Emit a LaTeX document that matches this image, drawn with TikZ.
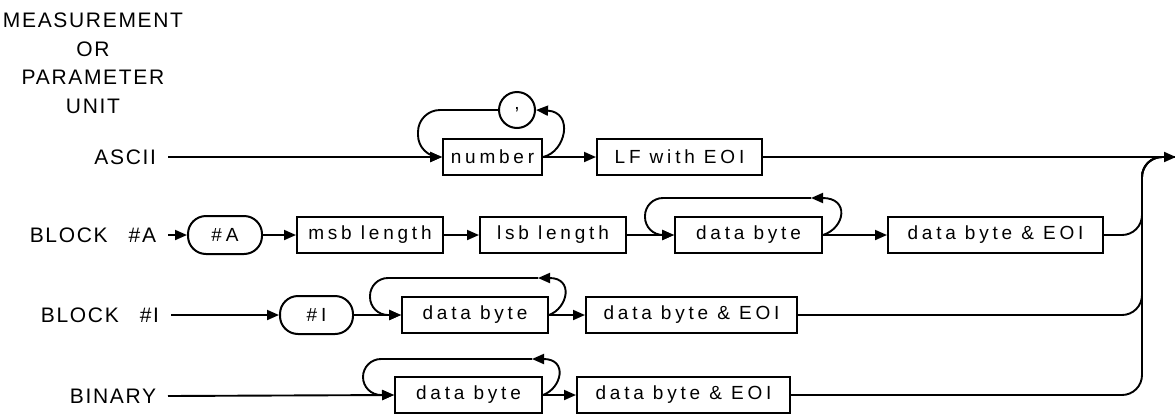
\documentclass[tikz,border=0pt]{standalone}
\usepackage{fontspec}
\setmainfont{Liberation Sans}
\newfontfamily\labelfont[LetterSpace=8]{Liberation Sans}
\newfontfamily\boxfont[LetterSpace=20]{Liberation Sans}
\usetikzlibrary{arrows.meta}

\begin{document}
\begin{tikzpicture}[x=1pt,y=-1pt,
  line width=1.9pt,
  >={Triangle[length=12pt,width=10pt]},
  rowlabel/.style={anchor=east,inner xsep=11pt,inner ysep=0pt,
    font=\labelfont\fontsize{21}{25}\selectfont},
  item/.style={draw,line width=2pt,minimum height=36pt,inner sep=0pt,
    font=\boxfont\fontsize{19}{22}\selectfont},
  token/.style={item,rounded corners=18pt,minimum height=38pt}]
  \useasboundingbox (0,0) rectangle (1175,413);

  % heading and row names
  \node[font=\labelfont\fontsize{21}{28.5}\selectfont,align=center,
    anchor=north,inner sep=0pt] (heading) at (93,12)
    {MEASUREMENT\\OR\\PARAMETER\\UNIT};
  \node[rowlabel] (ascii) at (168,157) {ASCII};
  \node[rowlabel] (blocka) at (168,235) {BLOCK\quad\#A};
  \node[rowlabel] (blocki) at (171,315) {BLOCK\quad\#I};
  \node[rowlabel] (binary) at (168,396) {BINARY};

  % ASCII
  \node[item,minimum width=99pt] (number) at (492.5,157) {number};
  \node[item,circle,minimum size=36pt] (comma) at (517,110) {,};
  \node[item,minimum width=165pt] (lf) at (679.5,157) {LF with EOI};

  % BLOCK #A
  \node[token,minimum width=74pt] (hasha) at (225,235) {\#A};
  \node[item,minimum width=146pt] (msb) at (370,235) {msb length};
  \node[item,minimum width=146pt] (lsb) at (553,235) {lsb length};
  \node[item,minimum width=147pt] (bytea) at (748.5,235) {data byte};
  \node[item,minimum width=215pt] (lasta) at (995.5,235) {data byte \& EOI};

  % BLOCK #I
  \node[token,minimum width=73pt] (hashi) at (316.5,315) {\#I};
  \node[item,minimum width=146pt] (bytei) at (475,315) {data byte};
  \node[item,minimum width=211pt] (lasti) at (691.5,315) {data byte \& EOI};

  % BINARY
  \node[item,minimum width=147pt] (byteb) at (468.5,395) {data byte};
  \node[item,minimum width=213pt] (lastb) at (683.5,395) {data byte \& EOI};

  \coordinate (bus) at (1142,157);
  \coordinate (out) at (1176,157);
  \coordinate (loopa) at (811,198);
  \coordinate (loopi) at (538,278);
  \coordinate (loopb) at (532,359);

  \draw[->] (ascii.east) -- (number.west);
  \draw[->,rounded corners=22pt] (comma.west) -- (418,110) -- (418,157) -- (number.west);
  \draw[->] (number.east) .. controls (566,152) and (574,112) .. (comma.east);
  \draw[->] (number.east) -- (lf.west);
  \draw[->] (lf.east) -- (out);

  \draw[->] (blocka.east) -- (hasha.west);
  \draw[->] (hasha.east) -- (msb.west);
  \draw[->] (msb.east) -- (lsb.west);
  \draw[->] (lsb.east) -- (bytea.west);
  \draw[->] (bytea.east) .. controls (845,228) and (850,198) .. (loopa);
  \draw[->,rounded corners=18pt] (loopa) -- (645,198) -- (645,235) -- (bytea.west);
  \draw[->] (bytea.east) -- (lasta.west);
  \draw[rounded corners=20pt] (lasta.east) -- (bus |- lasta.east) -- (bus) -- (out);

  \draw[->] (blocki.east) -- (hashi.west);
  \draw[->] (hashi.east) -- (bytei.west);
  \draw[->] (bytei.east) .. controls (568,308) and (574,278) .. (loopi);
  \draw[->,rounded corners=18pt] (loopi) -- (370,278) -- (370,315) -- (bytei.west);
  \draw[->] (bytei.east) -- (lasti.west);
  \draw[rounded corners=20pt] (lasti.east) -- (bus |- lasti.east) -- (bus) -- (out);

  \draw[->] (binary.east) -- (byteb.west);
  \draw[->] (byteb.east) .. controls (562,388) and (568,359) .. (loopb);
  \draw[->,rounded corners=18pt] (loopb) -- (363,359) -- (363,395) -- (byteb.west);
  \draw[->] (byteb.east) -- (lastb.west);
  \draw[rounded corners=20pt] (lastb.east) -- (bus |- lastb.east) -- (bus) -- (out);
\end{tikzpicture}
\end{document}
